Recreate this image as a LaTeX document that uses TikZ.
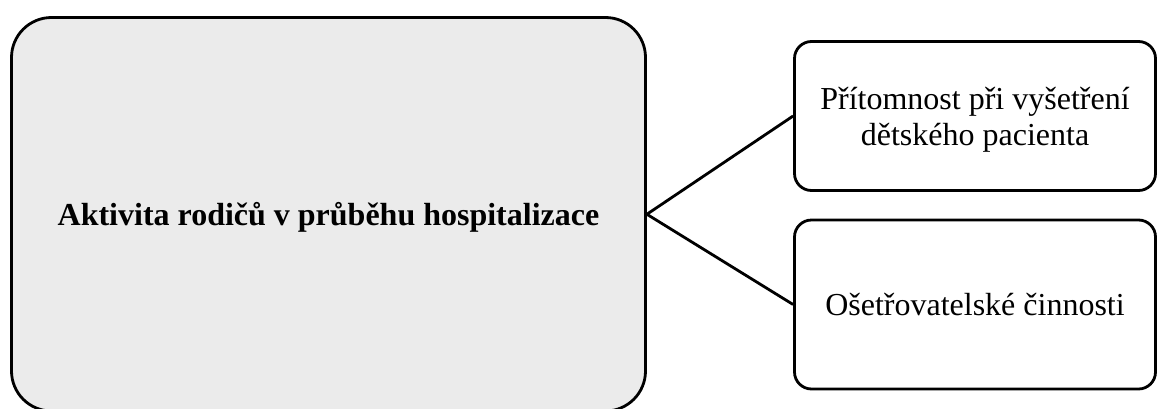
\documentclass[tikz,border=0pt]{standalone}
\usepackage{fontspec}
\setmainfont{Liberation Serif}
\usetikzlibrary{positioning}
\definecolor{boxgray}{HTML}{EBEBEB}

\begin{document}
\begin{tikzpicture}[x=1pt, y=-1pt,
  box/.style={draw, line width=2.8pt, rounded corners=17pt, align=center,
    inner sep=0pt, text depth=0pt, font=\fontsize{32}{36}\selectfont},
  mainbox/.style={box, fill=boxgray, rounded corners=40pt,
    font=\fontsize{32}{36}\selectfont\bfseries}]
  \useasboundingbox (0,0) rectangle (1157,408);
  \node[mainbox, minimum width=634pt, minimum height=393.5pt] (akt) at (328.5,214.25)
    {Aktivita rodičů v průběhu hospitalizace};
  \node[box, minimum width=361pt, minimum height=149pt] (prit) at (975,116)
    {Přítomnost při vyšetření\\dětského pacienta};
  \node[box, minimum width=361pt, minimum height=169pt] (oset) at (975,304.5)
    {Ošetřovatelské činnosti};
%  \path (akt) edge (prit)
  \path[line width=2.8pt]
  (akt.east) edge (prit.west)
  (akt.east) edge (oset.west);
\end{tikzpicture}
\end{document}
